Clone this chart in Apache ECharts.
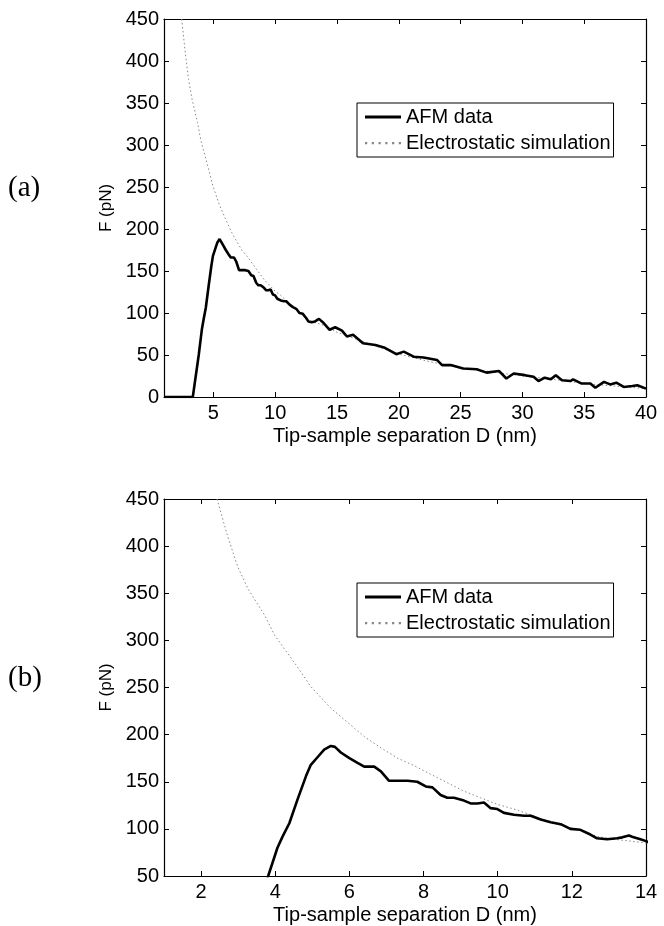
<!DOCTYPE html>
<html>
<head>
<meta charset="utf-8">
<script src="https://cdn.jsdelivr.net/npm/echarts@6/dist/echarts.min.js"></script>
</head>
<body style="margin:0;background:#fff">
<div id="main" style="width:664px;height:926px;"></div>
<script>
var afmSep = [1, 3.33, 3.81, 4.06, 4.2, 4.38, 4.6, 4.83, 4.96, 5.14, 5.32, 5.5, 5.61, 5.77, 6.0, 6.22, 6.4, 6.67, 6.85, 7.07,
    7.3, 7.57, 7.83, 8.06, 8.24, 8.46, 8.64, 8.82, 9.09, 9.27, 9.45, 9.63, 9.81, 9.99, 10.17, 10.44, 10.71, 10.89, 11.16, 11.43,
    11.7, 11.96, 12.23, 12.5, 12.68, 12.95, 13.22, 13.36, 13.54, 13.67, 13.85, 14.0, 14.4, 14.85, 15.4, 15.8, 16.3, 17.1, 18.1, 18.8,
    19.8, 20.4, 21.2, 22.0, 23.1, 23.5, 24.2, 25.2, 26.3, 27.1, 28.1, 28.7, 29.3, 30.2, 30.9, 31.3, 31.8, 32.3, 32.7, 33.2,
    33.9, 34.1, 34.8, 35.5, 35.9, 36.6, 37.1, 37.6, 38.2, 38.9, 39.3, 40];
var afmForce = [0, 0, 50, 80, 92, 106, 131, 156, 168, 176, 184, 188, 187, 181, 175, 170, 166, 166, 161, 151,
    151, 151, 150, 145, 144, 136, 133, 133, 130, 127, 127, 128, 122, 121, 117, 115, 114, 114, 110, 107,
    105, 100, 99, 94, 90, 89, 90, 91, 93, 91, 89, 87, 80, 83, 79, 72, 74, 64, 62, 59,
    51, 54, 48, 47, 44, 38, 38, 34, 33, 29, 31, 22, 28, 26, 24, 19, 23, 21, 26, 20,
    19, 21, 16, 16, 11, 18, 15, 17, 12, 13, 14, 10];

// electrostatic simulation
var simSep = [2.43, 2.72, 2.99, 3.26, 3.71, 3.99, 4.56, 4.96, 5.5, 5.95, 6.4, 6.85, 7.3, 7.75, 8.19, 8.64, 9.09, 9.54, 9.99, 10.44,
    10.89, 11.34, 11.78, 12.23, 12.68, 13.13, 13.58, 14, 15, 17.5, 20, 22.5, 25, 27.5, 30, 32.5, 35, 37.5, 40];
var simForce = [450, 410, 378, 355, 327, 305, 274, 251, 228, 213, 198, 186, 175, 167, 158, 149, 140, 133, 126, 121,
    115, 108, 103, 98, 92, 89, 87, 85, 77, 64, 51, 42, 35, 30, 25, 21, 16, 13, 10];

var xTicksA = [5, 10, 15, 20, 25, 30, 35, 40];
var xTicksB = [2, 4, 6, 8, 10, 12, 14];
var seriesNames = ['AFM data', 'Electrostatic simulation'];
var panelLabels = ['(a)', '(b)'];

function zip(a, b) {
    return a.map(function(v, i) { return [v, b[i]]; });
}
var afm = zip(afmSep, afmForce);
var sim = zip(simSep, simForce);

var font = 'Liberation Sans, Arial, Helvetica, sans-serif';
var gridTops = [19, 499];
var gridH = 378;

function xAxis(g, pos, min, max, ticks, label) {
    return {
        type: 'value', gridIndex: g, position: pos, min: min, max: max,
        axisLine: { show: true, onZero: false, lineStyle: { color: '#000', width: 1.2 } },
        axisTick: { show: true, inside: true, length: 5, customValues: ticks, lineStyle: { color: '#000' } },
        axisLabel: { show: label, customValues: ticks, color: '#000', fontSize: 20, fontFamily: font, margin: 6 },
        splitLine: { show: false },
        name: label ? 'Tip-sample separation D (nm)' : '',
        nameLocation: 'middle', nameGap: 29,
        nameTextStyle: { color: '#000', fontSize: 20, fontFamily: font }
    };
}
function yAxis(g, pos, min, label) {
    return {
        type: 'value', gridIndex: g, position: pos, min: min, max: 450, interval: 50,
        axisLine: { show: true, onZero: false, lineStyle: { color: '#000', width: 1.2 } },
        axisTick: { show: true, inside: true, length: 5, lineStyle: { color: '#000' } },
        axisLabel: { show: label, color: '#000', fontSize: 20, fontFamily: font, margin: 5 },
        splitLine: { show: false },
        name: label ? 'F (pN)' : '',
        nameLocation: 'middle', nameGap: 48,
        nameTextStyle: { color: '#000', fontSize: 17, fontFamily: font }
    };
}

var solidIcon = 'path://M0,0H36V3H0Z';
var dotIcon = 'path://M0,0h2v2h-2zM6,0h2v2h-2zM12,0h2v2h-2zM18,0h2v2h-2zM24,0h2v2h-2zM30,0h2v2h-2z';

function legend(top) {
    return {
        orient: 'vertical', left: 357, top: top,
        data: [{ name: seriesNames[0], icon: solidIcon }, { name: seriesNames[1], icon: dotIcon }],
        itemWidth: 36, itemHeight: 3, itemGap: 6,
        padding: [4, 3, 4, 8],
        borderColor: '#000', borderWidth: 1, backgroundColor: '#fff',
        selectedMode: false,
        textStyle: { color: '#000', fontSize: 20, fontFamily: font }
    };
}

function series(i) {
    return [{
        name: seriesNames[0], type: 'line', xAxisIndex: i * 2, yAxisIndex: i * 2,
        data: afm, symbol: 'none', color: '#000', z: 3,
        lineStyle: { color: '#000', width: 2.6 }
    }, {
        name: seriesNames[1], type: 'line', xAxisIndex: i * 2, yAxisIndex: i * 2,
        data: sim, symbol: 'none', color: '#888', z: 2,
        lineStyle: { color: '#888', width: 1, type: [1.5, 2.5] }
    }];
}

var labelFont = '29px "Liberation Serif", "Times New Roman", serif';

var myChart = echarts.init(document.getElementById('main'));
var option = {
    animation: false,
    backgroundColor: '#fff',
    grid: [
        { left: 164, right: 18, top: gridTops[0], height: gridH },
        { left: 164, right: 18, top: gridTops[1], height: gridH }
    ],
    xAxis: [
        xAxis(0, 'bottom', 1, 40, xTicksA, true), xAxis(0, 'top', 1, 40, xTicksA, false),
        xAxis(1, 'bottom', 1, 14, xTicksB, true), xAxis(1, 'top', 1, 14, xTicksB, false)
    ],
    yAxis: [
        yAxis(0, 'left', 0, true), yAxis(0, 'right', 0, false),
        yAxis(1, 'left', 50, true), yAxis(1, 'right', 50, false)
    ],
    legend: [legend(103), legend(583)],
    graphic: [
        { type: 'text', left: 8, top: 174, style: { text: panelLabels[0], fill: '#000', font: labelFont } },
        { type: 'text', left: 8, top: 664, style: { text: panelLabels[1], fill: '#000', font: labelFont } }
    ],
    series: series(0).concat(series(1))
};
myChart.setOption(option);
</script>
</body>
</html>
